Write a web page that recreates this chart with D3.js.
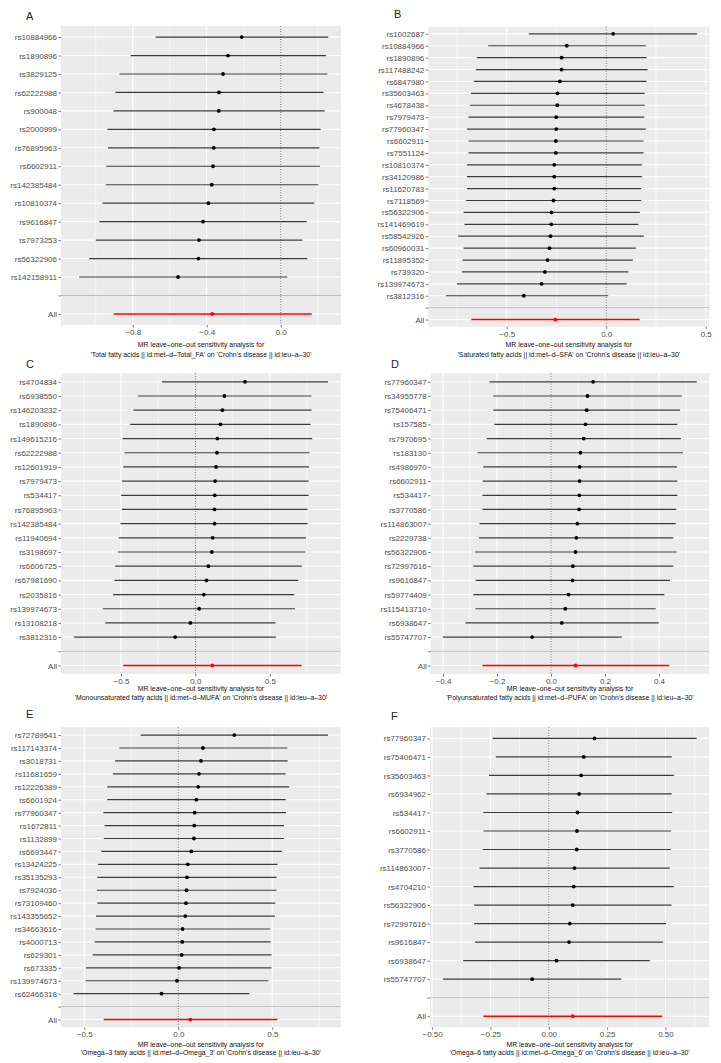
<!DOCTYPE html>
<html><head><meta charset="utf-8">
<script src="https://cdn.jsdelivr.net/npm/d3@7"></script>
<style>body{margin:0;background:#fff} svg{display:block} text{font-family:"Liberation Sans",Arial,sans-serif}</style>
</head><body><svg id="c" width="721" height="1063"></svg>
<script>
// ---------- Data ----------
const snpsA = ["rs10884966","rs1890896","rs3829125","rs62222988","rs900048","rs2000999","rs76895963","rs6602911","rs142385484","rs10810374","rs9616847","rs7973253","rs56322906","rs142158911","All"];
const bA  = [-0.211,-0.285,-0.312,-0.334,-0.335,-0.361,-0.362,-0.366,-0.373,-0.391,-0.420,-0.442,-0.445,-0.555,-0.370];
const loA = [-0.676,-0.811,-0.872,-0.894,-0.905,-0.937,-0.934,-0.944,-0.946,-0.964,-0.980,-1.000,-1.036,-1.090,-0.903];
const hiA = [0.257,0.245,0.252,0.232,0.238,0.216,0.209,0.212,0.203,0.182,0.141,0.117,0.144,0.036,0.168];
const ticksA = [-0.8,-0.4,0.0];
const tickLabelsA = ["\u22120.8","\u22120.4","0.0"];

const snpsB = ["rs1002687","rs10884966","rs1890896","rs117488242","rs6847980","rs35603463","rs4678438","rs7979473","rs77960347","rs6602911","rs7551124","rs10810374","rs34120986","rs11620783","rs7118569","rs56322906","rs141469619","rs58542926","rs60960031","rs11895352","rs739320","rs139974673","rs3812316","All"];
const bB  = [0.035,-0.198,-0.224,-0.224,-0.233,-0.245,-0.246,-0.251,-0.251,-0.253,-0.253,-0.261,-0.261,-0.261,-0.265,-0.275,-0.276,-0.280,-0.285,-0.295,-0.308,-0.325,-0.414,-0.256];
const loB = [-0.389,-0.593,-0.650,-0.655,-0.665,-0.680,-0.685,-0.692,-0.700,-0.692,-0.692,-0.700,-0.700,-0.700,-0.704,-0.717,-0.712,-0.744,-0.717,-0.722,-0.725,-0.750,-0.806,-0.678];
const hiB = [0.457,0.199,0.203,0.208,0.203,0.193,0.194,0.191,0.199,0.188,0.188,0.179,0.179,0.176,0.176,0.169,0.162,0.189,0.149,0.134,0.111,0.102,0.010,0.168];
const ticksB = [-0.5,0.0,0.5];
const tickLabelsB = ["\u22120.5","0.0","0.5"];

const snpsC = ["rs4704834","rs6938550","rs146203232","rs1890896","rs149615216","rs62222988","rs12601919","rs7979473","rs534417","rs76895963","rs142385484","rs11940694","rs3198697","rs6606725","rs67981690","rs2035816","rs139974673","rs13108218","rs3812316","All"];
const bC  = [0.333,0.195,0.181,0.168,0.148,0.145,0.139,0.132,0.130,0.128,0.128,0.116,0.110,0.087,0.074,0.056,0.025,-0.034,-0.136,0.114];
const loC = [-0.224,-0.387,-0.416,-0.438,-0.490,-0.477,-0.485,-0.494,-0.499,-0.494,-0.503,-0.515,-0.521,-0.539,-0.544,-0.553,-0.622,-0.606,-0.817,-0.485];
const hiC = [0.890,0.779,0.779,0.774,0.785,0.767,0.763,0.761,0.761,0.754,0.754,0.743,0.738,0.714,0.691,0.664,0.669,0.539,0.541,0.714];
const ticksC = [-0.5,0.0,0.5];
const tickLabelsC = ["\u22120.5","0.0","0.5"];

const snpsD = ["rs77960347","rs34955778","rs75406471","rs157585","rs7970695","rs183130","rs4986970","rs6602911","rs534417","rs3770586","rs114863007","rs2229738","rs56322906","rs72997616","rs9616847","rs59774409","rs115413710","rs6938647","rs55747707","All"];
const bD  = [0.156,0.135,0.132,0.128,0.121,0.109,0.106,0.106,0.105,0.104,0.098,0.094,0.091,0.081,0.080,0.065,0.053,0.040,-0.070,0.091];
const loD = [-0.228,-0.214,-0.214,-0.210,-0.238,-0.272,-0.251,-0.253,-0.254,-0.254,-0.265,-0.267,-0.281,-0.288,-0.279,-0.288,-0.280,-0.317,-0.401,-0.254];
const hiD = [0.540,0.485,0.478,0.468,0.481,0.489,0.467,0.468,0.468,0.464,0.462,0.453,0.465,0.453,0.441,0.420,0.388,0.399,0.262,0.438];
const ticksD = [-0.4,-0.2,0.0,0.2,0.4];
const tickLabelsD = ["\u22120.4","\u22120.2","0.0","0.2","0.4"];

const snpsE = ["rs72789541","rs117143374","rs3018731","rs11681659","rs12226389","rs6601924","rs77960347","rs1672811","rs1132899","rs6693447","rs13424225","rs35135293","rs7924036","rs73109460","rs143355652","rs34663616","rs4000713","rs629301","rs673335","rs139974673","rs62466318","All"];
const bE  = [0.298,0.131,0.121,0.110,0.106,0.096,0.087,0.085,0.083,0.069,0.051,0.046,0.044,0.041,0.037,0.023,0.021,0.018,0.004,-0.007,-0.089,0.064];
const loE = [-0.200,-0.314,-0.337,-0.348,-0.378,-0.378,-0.399,-0.392,-0.397,-0.410,-0.427,-0.431,-0.433,-0.431,-0.438,-0.440,-0.445,-0.456,-0.491,-0.493,-0.557,-0.397];
const hiE = [0.796,0.580,0.582,0.571,0.590,0.571,0.573,0.562,0.562,0.551,0.528,0.523,0.523,0.516,0.514,0.489,0.491,0.496,0.496,0.479,0.378,0.527];
const ticksE = [-0.5,0.0,0.5];
const tickLabelsE = ["\u22120.5","0.0","0.5"];

const snpsF = ["rs77960347","rs75406471","rs35603463","rs6934962","rs534417","rs6602911","rs3770586","rs114863007","rs4704210","rs56322906","rs72997616","rs9616847","rs6938647","rs55747707","All"];
const bF  = [0.196,0.150,0.139,0.130,0.123,0.121,0.120,0.110,0.107,0.103,0.090,0.087,0.033,-0.071,0.103];
const loF = [-0.241,-0.227,-0.256,-0.267,-0.281,-0.280,-0.283,-0.297,-0.323,-0.320,-0.320,-0.316,-0.367,-0.454,-0.280];
const hiF = [0.634,0.527,0.536,0.527,0.529,0.524,0.523,0.519,0.536,0.526,0.503,0.490,0.433,0.311,0.486];
const ticksF = [-0.50,-0.25,0.00,0.25,0.50];
const tickLabelsF = ["\u22120.50","\u22120.25","0.00","0.25","0.50"];

const captionLine1 = "MR leave\u2013one\u2013out sensitivity analysis for";
const captionsLine2 = [
  "'Total fatty acids || id:met\u2013d\u2013Total_FA' on 'Crohn's disease || id:ieu\u2013a\u201330'",
  "'Saturated fatty acids || id:met\u2013d\u2013SFA' on 'Crohn's disease || id:ieu\u2013a\u201330'",
  "'Monounsaturated fatty acids || id:met\u2013d\u2013MUFA' on 'Crohn's disease || id:ieu\u2013a\u201330'",
  "'Polyunsaturated fatty acids || id:met\u2013d\u2013PUFA' on 'Crohn's disease || id:ieu\u2013a\u201330'",
  "'Omega\u20133 fatty acids || id:met\u2013d\u2013Omega_3' on 'Crohn's disease || id:ieu\u2013a\u201330'",
  "'Omega\u20136 fatty acids || id:met\u2013d\u2013Omega_6' on 'Crohn's disease || id:ieu\u2013a\u201330'"
];
const panelLetters = ["A","B","C","D","E","F"];

// ---------- Layout (pixels) ----------
const layout = [
  {snps:snpsA,b:bA,lo:loA,hi:hiA,ticks:ticksA,tl:tickLabelsA,L:61,R:341,T:26,B:325,dom:[-1.188,0.326],cap:[347,357],let:[26,20]},
  {snps:snpsB,b:bB,lo:loB,hi:hiB,ticks:ticksB,tl:tickLabelsB,L:428.3,R:709.3,T:26.7,B:326.7,dom:[-0.894,0.518],cap:[347,357],let:[394,18]},
  {snps:snpsC,b:bC,lo:loC,hi:hiC,ticks:ticksC,tl:tickLabelsC,L:61,R:340.7,T:373.3,B:674,dom:[-0.903,0.976],cap:[691,700],let:[26,368]},
  {snps:snpsD,b:bD,lo:loD,hi:hiD,ticks:ticksD,tl:tickLabelsD,L:430.7,R:709.3,T:373.3,B:674,dom:[-0.4456,0.5863],cap:[691,700],let:[391,368]},
  {snps:snpsE,b:bE,lo:loE,hi:hiE,ticks:ticksE,tl:tickLabelsE,L:61,R:340.7,T:727.3,B:1027.3,dom:[-0.624,0.864],cap:[1046.5,1054.5],let:[26,718]},
  {snps:snpsF,b:bF,lo:loF,hi:hiF,ticks:ticksF,tl:tickLabelsF,L:430,R:709.3,T:727.3,B:1027.3,dom:[-0.509,0.688],cap:[1046.5,1054.5],let:[391,720]}
];

const svg = d3.select("#c");

layout.forEach((p, i) => {
  const cats = p.snps.slice(0, -1).concat([""], ["All"]);
  const rows = p.snps.map((s, k) => ({snp: s, b: p.b[k], lo: p.lo[k], hi: p.hi[k]}));
  const x = d3.scaleLinear().domain(p.dom).range([p.L, p.R]);
  const y = d3.scalePoint().domain(cats).range([p.T, p.B]).padding(0.6);
  const g = svg.append("g");

  g.append("rect").attr("x", p.L).attr("y", p.T).attr("width", p.R - p.L).attr("height", p.B - p.T).attr("fill", "#ebebeb");

  const step = p.ticks[1] - p.ticks[0];
  const minor = [];
  for (let v = p.ticks[0] - step / 2; v <= p.dom[1]; v += step) {
    if (v >= p.dom[0]) minor.push(v);
  }
  const majors = [];
  for (let v = p.ticks[0] - step; v >= p.dom[0]; v -= step) majors.push(v);
  for (let v = p.ticks[p.ticks.length - 1] + step; v <= p.dom[1]; v += step) majors.push(v);
  g.selectAll(".minor").data(minor).join("line")
    .attr("x1", d => x(d)).attr("x2", d => x(d)).attr("y1", p.T).attr("y2", p.B)
    .attr("stroke", "#fff").attr("stroke-width", 0.55);
  g.selectAll(".major").data(p.ticks.concat(majors)).join("line")
    .attr("x1", d => x(d)).attr("x2", d => x(d)).attr("y1", p.T).attr("y2", p.B)
    .attr("stroke", "#fff").attr("stroke-width", 1.1);
  g.selectAll(".hgrid").data(cats).join("line")
    .attr("x1", p.L).attr("x2", p.R).attr("y1", d => y(d)).attr("y2", d => y(d))
    .attr("stroke", "#fff").attr("stroke-width", 1.1);

  g.append("line").attr("x1", p.L).attr("x2", p.R).attr("y1", y("")).attr("y2", y(""))
    .attr("stroke", "#bebebe").attr("stroke-width", 1);

  g.append("line").attr("x1", x(0)).attr("x2", x(0)).attr("y1", p.T).attr("y2", p.B)
    .attr("stroke", "#222").attr("stroke-width", 0.7).attr("stroke-dasharray", "1,1.6");

  g.selectAll(".eb").data(rows).join("line")
    .attr("x1", d => x(d.lo)).attr("x2", d => x(d.hi))
    .attr("y1", d => y(d.snp)).attr("y2", d => y(d.snp))
    .attr("stroke", d => d.snp === "All" ? "#ff0000" : "#3a3a3a")
    .attr("stroke-width", d => d.snp === "All" ? 1.6 : 1.2);
  g.selectAll(".pt").data(rows).join("circle")
    .attr("cx", d => x(d.b)).attr("cy", d => y(d.snp)).attr("r", 1.9)
    .attr("fill", d => d.snp === "All" ? "#ff0000" : "#000");

  const ya = d3.axisLeft(y).tickSize(2.5).tickPadding(1.5);
  const yg = g.append("g").attr("transform", `translate(${p.L},0)`).call(ya);
  yg.select(".domain").remove();
  yg.selectAll(".tick line").attr("stroke", "#555").attr("stroke-width", 0.8);
  yg.selectAll(".tick text").attr("fill", "#4d4d4d").attr("font-size", 8).attr("font-family", "Liberation Sans, Arial, sans-serif");

  const xa = d3.axisBottom(x).tickValues(p.ticks).tickFormat((d, k) => p.tl[k]).tickSize(2.5).tickPadding(2);
  const xg = g.append("g").attr("transform", `translate(0,${p.B})`).call(xa);
  xg.select(".domain").remove();
  xg.selectAll(".tick line").attr("stroke", "#555").attr("stroke-width", 0.8);
  xg.selectAll(".tick text").attr("fill", "#4d4d4d").attr("font-size", 8).attr("font-family", "Liberation Sans, Arial, sans-serif");

  const cx = (p.L + p.R) / 2;
  g.append("text").attr("x", cx).attr("y", p.cap[0]).attr("text-anchor", "middle")
    .attr("font-size", 6.9).attr("fill", "#111").text(captionLine1);
  g.append("text").attr("x", cx).attr("y", p.cap[1]).attr("text-anchor", "middle")
    .attr("font-size", 6.9).attr("fill", "#111").text(captionsLine2[i]);

  g.append("text").attr("x", p.let[0]).attr("y", p.let[1]).attr("font-size", 11)
    .attr("fill", "#222").text(panelLetters[i]);
});
</script>
</body></html>
